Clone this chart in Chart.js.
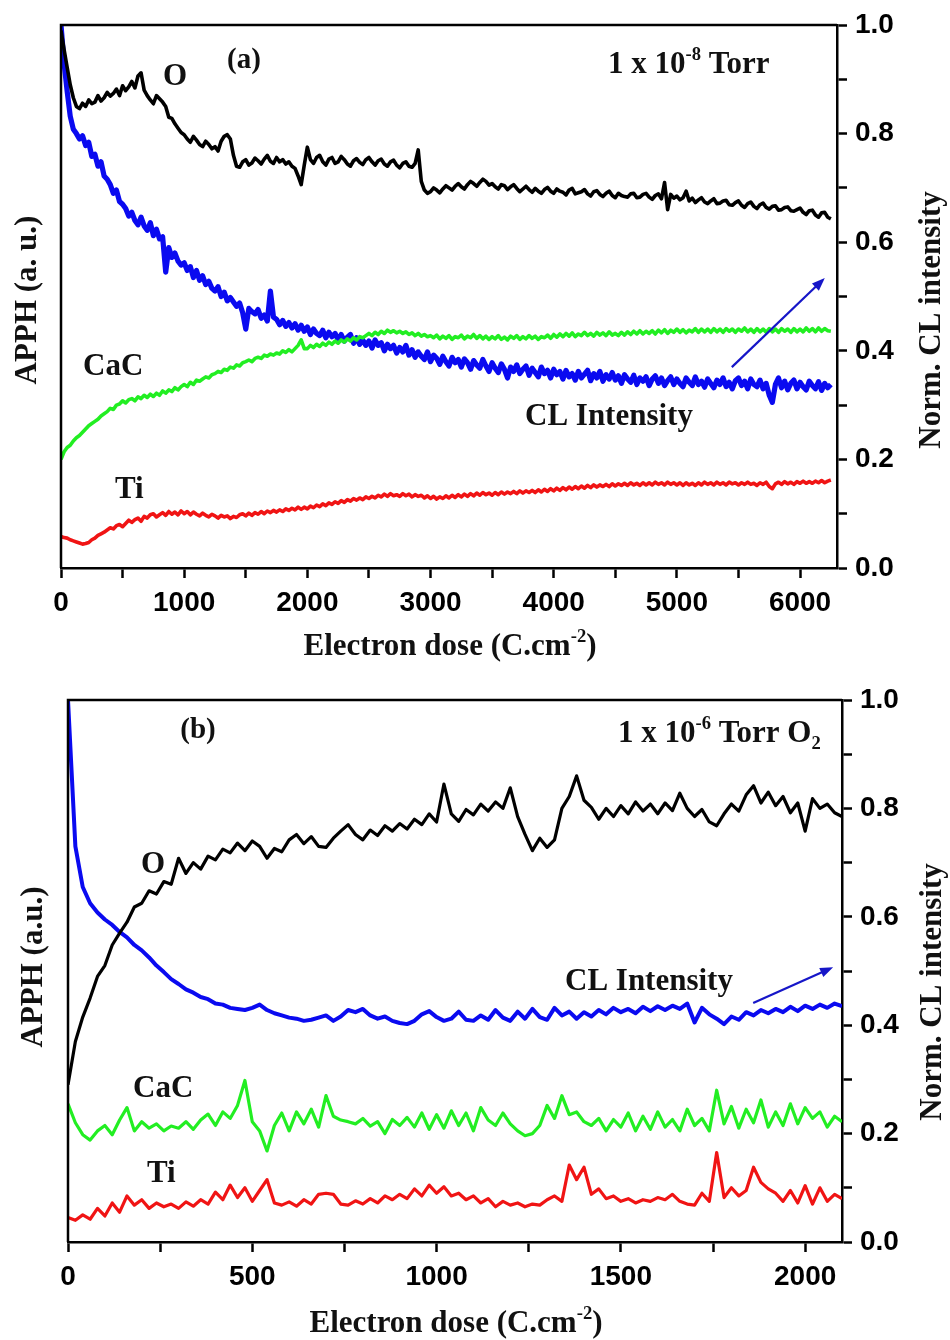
<!DOCTYPE html>
<html lang="en">
<head>
    <meta charset="UTF-8" />
    <title>APPH and CL intensity vs electron dose</title>
    <style>
        body {
            margin: 0;
            background: #fff;
        }
        .panel {
            width: 950px;
            height: 670px;
        }
    </style>
</head>
<body>
    <div class="panel"><canvas id="chartA" width="950" height="670"></canvas></div>
    <div class="panel"><canvas id="chartB" width="950" height="670"></canvas></div>

    <script src="https://cdn.jsdelivr.net/npm/chart.js"></script>
    <script>
        // (a) 1 x 10^-8 Torr
        const doseA = [
            0, 25, 50, 75, 100, 125, 150, 175, 200, 225,
            250, 275, 300, 325, 350, 375, 400, 425, 450, 475,
            500, 525, 550, 575, 600, 625, 650, 675, 700, 725,
            750, 775, 800, 825, 850, 875, 900, 925, 950, 975,
            1000, 1025, 1050, 1075, 1100, 1125, 1150, 1175, 1200, 1225,
            1250, 1275, 1300, 1325, 1350, 1375, 1400, 1425, 1450, 1475,
            1500, 1525, 1550, 1575, 1600, 1625, 1650, 1675, 1700, 1725,
            1750, 1775, 1800, 1825, 1850, 1875, 1900, 1925, 1950, 1975,
            2000, 2025, 2050, 2075, 2100, 2125, 2150, 2175, 2200, 2225,
            2250, 2275, 2300, 2325, 2350, 2375, 2400, 2425, 2450, 2475,
            2500, 2525, 2550, 2575, 2600, 2625, 2650, 2675, 2700, 2725,
            2750, 2775, 2800, 2825, 2850, 2875, 2900, 2925, 2950, 2975,
            3000, 3025, 3050, 3075, 3100, 3125, 3150, 3175, 3200, 3225,
            3250, 3275, 3300, 3325, 3350, 3375, 3400, 3425, 3450, 3475,
            3500, 3525, 3550, 3575, 3600, 3625, 3650, 3675, 3700, 3725,
            3750, 3775, 3800, 3825, 3850, 3875, 3900, 3925, 3950, 3975,
            4000, 4025, 4050, 4075, 4100, 4125, 4150, 4175, 4200, 4225,
            4250, 4275, 4300, 4325, 4350, 4375, 4400, 4425, 4450, 4475,
            4500, 4525, 4550, 4575, 4600, 4625, 4650, 4675, 4700, 4725,
            4750, 4775, 4800, 4825, 4850, 4875, 4900, 4925, 4950, 4975,
            5000, 5025, 5050, 5075, 5100, 5125, 5150, 5175, 5200, 5225,
            5250, 5275, 5300, 5325, 5350, 5375, 5400, 5425, 5450, 5475,
            5500, 5525, 5550, 5575, 5600, 5625, 5650, 5675, 5700, 5725,
            5750, 5775, 5800, 5825, 5850, 5875, 5900, 5925, 5950, 5975,
            6000, 6025, 6050, 6075, 6100, 6125, 6150, 6175, 6200, 6225,
            6250
        ];
        const oxygenA = [
            0.99, 0.955, 0.922, 0.89, 0.866, 0.85, 0.846, 0.856, 0.85, 0.862,
            0.855, 0.858, 0.87, 0.86, 0.866, 0.876, 0.869, 0.874, 0.882, 0.87,
            0.888, 0.879, 0.886, 0.896, 0.884, 0.906, 0.912, 0.88, 0.87, 0.862,
            0.855, 0.87, 0.864, 0.858, 0.85, 0.83, 0.828, 0.818, 0.81, 0.802,
            0.798, 0.79, 0.784, 0.795, 0.788, 0.78, 0.776, 0.786, 0.78, 0.772,
            0.776, 0.768, 0.786, 0.795, 0.798, 0.79, 0.76, 0.74, 0.738, 0.748,
            0.752, 0.742, 0.746, 0.755, 0.75, 0.744, 0.753, 0.76, 0.749, 0.745,
            0.756, 0.748, 0.752, 0.744, 0.748, 0.74, 0.736, 0.722, 0.706, 0.742,
            0.775, 0.752, 0.745, 0.756, 0.76, 0.748, 0.742, 0.753, 0.756, 0.745,
            0.748, 0.758, 0.752, 0.744, 0.74, 0.75, 0.754, 0.747, 0.743, 0.752,
            0.756, 0.748, 0.742, 0.75, 0.753, 0.744, 0.74, 0.748, 0.751, 0.742,
            0.737, 0.745, 0.748, 0.74, 0.738, 0.745, 0.77, 0.712, 0.696, 0.69,
            0.693, 0.7, 0.696, 0.691, 0.698, 0.704, 0.7, 0.696, 0.703, 0.708,
            0.702, 0.698, 0.706, 0.712, 0.708, 0.703, 0.71, 0.716, 0.712, 0.705,
            0.708, 0.702, 0.698, 0.706, 0.704, 0.697, 0.702, 0.706, 0.699, 0.693,
            0.698, 0.703, 0.697, 0.692, 0.699, 0.694, 0.69, 0.697, 0.701, 0.694,
            0.69, 0.698, 0.694, 0.692, 0.687, 0.696, 0.699, 0.689, 0.691, 0.693,
            0.697, 0.689, 0.685, 0.693, 0.695, 0.688, 0.684, 0.69, 0.694, 0.686,
            0.682, 0.69, 0.686, 0.684, 0.683, 0.689, 0.69, 0.682, 0.683, 0.688,
            0.69, 0.683, 0.679, 0.686, 0.689, 0.68, 0.71, 0.66, 0.688, 0.681,
            0.685, 0.678, 0.682, 0.694, 0.676, 0.681, 0.673, 0.678, 0.682, 0.674,
            0.671, 0.676, 0.68, 0.671, 0.672, 0.676, 0.677, 0.669, 0.668, 0.673,
            0.676, 0.668, 0.664, 0.671, 0.674, 0.666, 0.662, 0.669, 0.672, 0.664,
            0.661, 0.666, 0.667, 0.659, 0.66, 0.664, 0.665, 0.658, 0.657, 0.66,
            0.663, 0.655, 0.651, 0.658, 0.659, 0.65, 0.646, 0.654, 0.655, 0.646,
            0.643
        ];
        const clA = [
            1.0, 0.93, 0.878, 0.832, 0.808, 0.8, 0.79, 0.796, 0.778, 0.784,
            0.758, 0.762, 0.74, 0.748, 0.722, 0.716, 0.706, 0.69, 0.696, 0.675,
            0.67, 0.662, 0.648, 0.655, 0.64, 0.632, 0.646, 0.63, 0.622, 0.636,
            0.612, 0.624, 0.606, 0.61, 0.545, 0.59, 0.572, 0.58, 0.565, 0.558,
            0.562, 0.548, 0.555, 0.535, 0.548, 0.53, 0.538, 0.522, 0.528, 0.515,
            0.51, 0.518, 0.5, 0.508, 0.492, 0.498, 0.49, 0.482, 0.488, 0.47,
            0.44, 0.478, 0.472, 0.468, 0.476, 0.46, 0.466, 0.455, 0.51, 0.462,
            0.458, 0.448, 0.456, 0.445, 0.452, 0.442, 0.45, 0.438, 0.447, 0.436,
            0.444, 0.43, 0.44, 0.432, 0.428, 0.438, 0.424, 0.434, 0.426, 0.432,
            0.42, 0.43, 0.418, 0.425, 0.43, 0.414, 0.424, 0.412, 0.42, 0.41,
            0.418, 0.405, 0.42, 0.41, 0.415, 0.4, 0.412, 0.404, 0.41, 0.396,
            0.406, 0.398, 0.41, 0.392, 0.402, 0.388, 0.398, 0.39, 0.384, 0.398,
            0.38, 0.392, 0.386, 0.375, 0.39, 0.38, 0.372, 0.388, 0.378, 0.384,
            0.37, 0.385, 0.378, 0.366, 0.382, 0.374, 0.368, 0.384, 0.372, 0.362,
            0.378, 0.368, 0.36, 0.376, 0.366, 0.35, 0.37, 0.362, 0.374, 0.358,
            0.366, 0.372, 0.355, 0.368, 0.36, 0.352, 0.37, 0.358, 0.364, 0.35,
            0.366, 0.356, 0.362, 0.348, 0.364, 0.352, 0.358, 0.346, 0.362, 0.35,
            0.357, 0.364, 0.345, 0.358, 0.35, 0.362, 0.344, 0.356, 0.348, 0.36,
            0.346, 0.354, 0.34, 0.356, 0.348, 0.342, 0.355, 0.338, 0.35, 0.344,
            0.352, 0.336, 0.348, 0.354, 0.34, 0.35, 0.336, 0.345, 0.352, 0.338,
            0.348, 0.34, 0.334, 0.35, 0.342, 0.336, 0.352, 0.338, 0.344, 0.333,
            0.348, 0.34, 0.332, 0.346, 0.338, 0.35, 0.334, 0.342, 0.33, 0.345,
            0.35, 0.336, 0.344, 0.33, 0.348, 0.338, 0.334, 0.346, 0.33, 0.34,
            0.318, 0.305, 0.338, 0.35, 0.332, 0.344, 0.328, 0.34, 0.346, 0.33,
            0.342, 0.334, 0.328, 0.344, 0.336, 0.33, 0.343, 0.327, 0.34, 0.332,
            0.338
        ];
        const cacA = [
            0.2, 0.214, 0.222, 0.226, 0.234, 0.24, 0.244, 0.25, 0.256, 0.262,
            0.266, 0.27, 0.274, 0.28, 0.284, 0.288, 0.294, 0.292, 0.3, 0.302,
            0.308, 0.304, 0.31, 0.312, 0.308, 0.315, 0.312, 0.318, 0.314, 0.32,
            0.316, 0.322, 0.318, 0.326, 0.322, 0.328, 0.325, 0.332, 0.328, 0.334,
            0.338, 0.334, 0.342, 0.338, 0.346, 0.344, 0.348, 0.352, 0.35, 0.356,
            0.358, 0.362, 0.36, 0.366, 0.364, 0.37, 0.368, 0.374, 0.372, 0.378,
            0.38, 0.383, 0.38, 0.386, 0.388, 0.386, 0.392, 0.39, 0.394, 0.392,
            0.396, 0.394, 0.4, 0.397, 0.402, 0.398, 0.404, 0.41, 0.42, 0.404,
            0.404, 0.41, 0.406, 0.412, 0.408, 0.414, 0.41, 0.416, 0.412, 0.418,
            0.414, 0.42, 0.416, 0.422, 0.418, 0.424, 0.42, 0.426, 0.424, 0.428,
            0.432, 0.428, 0.434, 0.43, 0.436, 0.432, 0.438, 0.434, 0.437, 0.433,
            0.436, 0.432, 0.435, 0.43, 0.433, 0.428, 0.432, 0.427, 0.43, 0.426,
            0.428, 0.424, 0.429, 0.422, 0.427, 0.423, 0.428, 0.421, 0.426, 0.424,
            0.429, 0.422, 0.427, 0.424, 0.43, 0.423, 0.428, 0.422, 0.427, 0.421,
            0.426, 0.422, 0.428, 0.421, 0.425, 0.42, 0.427, 0.423, 0.428, 0.421,
            0.426, 0.422, 0.428, 0.423, 0.427, 0.421, 0.426, 0.424, 0.429, 0.423,
            0.43, 0.425, 0.431, 0.426, 0.432, 0.427, 0.433, 0.426, 0.431, 0.428,
            0.434, 0.428, 0.432, 0.427, 0.434, 0.429, 0.433, 0.428, 0.435, 0.429,
            0.432, 0.428, 0.434, 0.429, 0.435, 0.43, 0.436, 0.431, 0.437, 0.431,
            0.436, 0.432, 0.437, 0.431, 0.438, 0.433, 0.439, 0.432, 0.438, 0.434,
            0.44, 0.434, 0.439, 0.433, 0.438, 0.435, 0.441, 0.434, 0.44, 0.435,
            0.44, 0.434, 0.441, 0.435, 0.44, 0.434, 0.441, 0.436, 0.44, 0.434,
            0.44, 0.436, 0.442, 0.435, 0.44, 0.434, 0.441, 0.435, 0.44, 0.434,
            0.441, 0.435, 0.44, 0.434, 0.441, 0.436, 0.44, 0.434, 0.441, 0.435,
            0.44, 0.435, 0.442, 0.436, 0.441, 0.435, 0.442, 0.436, 0.441, 0.437,
            0.436
        ];
        const tiA = [
            0.058, 0.056, 0.055, 0.052, 0.05, 0.048, 0.046, 0.044, 0.045, 0.047,
            0.052, 0.055, 0.06, 0.063, 0.066, 0.07, 0.074, 0.072, 0.078, 0.08,
            0.076, 0.082, 0.088, 0.084, 0.089, 0.092, 0.086, 0.095, 0.092, 0.098,
            0.1, 0.094, 0.098, 0.102, 0.097, 0.104, 0.099, 0.103, 0.098, 0.105,
            0.1, 0.104, 0.098, 0.103, 0.099, 0.096, 0.101, 0.097, 0.094, 0.099,
            0.096, 0.092, 0.097, 0.094, 0.096, 0.091, 0.095, 0.093, 0.098, 0.1,
            0.096, 0.101, 0.097, 0.102, 0.099, 0.104, 0.1, 0.105, 0.102, 0.106,
            0.103, 0.107, 0.104, 0.109, 0.106, 0.11, 0.107, 0.112, 0.108, 0.112,
            0.109, 0.114, 0.111, 0.116, 0.113, 0.118, 0.115, 0.12, 0.117, 0.122,
            0.119, 0.124, 0.121, 0.126, 0.123, 0.128, 0.125, 0.129, 0.126, 0.131,
            0.128, 0.132, 0.129, 0.134, 0.131, 0.136, 0.132, 0.137, 0.133, 0.135,
            0.132, 0.137, 0.133, 0.136, 0.131, 0.135, 0.132, 0.134, 0.129, 0.133,
            0.128, 0.132, 0.127, 0.131, 0.128, 0.133, 0.129, 0.134, 0.13, 0.135,
            0.131, 0.136, 0.132, 0.137, 0.133, 0.138, 0.134, 0.139, 0.135, 0.138,
            0.134, 0.139, 0.135, 0.14, 0.136, 0.14, 0.137, 0.141, 0.137, 0.142,
            0.138, 0.142, 0.139, 0.143, 0.139, 0.144, 0.14, 0.145, 0.141, 0.146,
            0.142, 0.147, 0.143, 0.148, 0.144, 0.149, 0.145, 0.15, 0.146, 0.151,
            0.147, 0.152, 0.148, 0.153, 0.149, 0.153, 0.15, 0.154, 0.15, 0.155,
            0.151, 0.155, 0.152, 0.156, 0.152, 0.157, 0.153, 0.156, 0.152, 0.157,
            0.153, 0.157, 0.153, 0.158, 0.154, 0.157, 0.153, 0.158, 0.154, 0.157,
            0.153, 0.157, 0.152, 0.157, 0.153, 0.156, 0.152, 0.157, 0.153, 0.158,
            0.154, 0.157, 0.153, 0.158, 0.154, 0.157, 0.153, 0.158, 0.155, 0.157,
            0.153, 0.157, 0.154, 0.158, 0.154, 0.156, 0.152, 0.157, 0.154, 0.158,
            0.15, 0.146, 0.155, 0.158, 0.154, 0.159, 0.155, 0.158, 0.154, 0.159,
            0.156, 0.16, 0.156, 0.159, 0.156, 0.16, 0.157, 0.161, 0.157, 0.16,
            0.162
        ];
        const xTicksA = [0, 500, 1000, 1500, 2000, 2500, 3000, 3500, 4000, 4500, 5000, 5500, 6000];

        // (b) 1 x 10^-6 Torr O2
        const doseB = [
            0, 20, 40, 60, 80, 100, 120, 140, 160, 180,
            200, 220, 240, 260, 280, 300, 320, 340, 360, 380,
            400, 420, 440, 460, 480, 500, 520, 540, 560, 580,
            600, 620, 640, 660, 680, 700, 720, 740, 760, 780,
            800, 820, 840, 860, 880, 900, 920, 940, 960, 980,
            1000, 1020, 1040, 1060, 1080, 1100, 1120, 1140, 1160, 1180,
            1200, 1220, 1240, 1260, 1280, 1300, 1320, 1340, 1360, 1380,
            1400, 1420, 1440, 1460, 1480, 1500, 1520, 1540, 1560, 1580,
            1600, 1620, 1640, 1660, 1680, 1700, 1720, 1740, 1760, 1780,
            1800, 1820, 1840, 1860, 1880, 1900, 1920, 1940, 1960, 1980,
            2000, 2020, 2040, 2060, 2080, 2100
        ];
        const oxygenB = [
            0.29, 0.37, 0.415, 0.45, 0.49, 0.51, 0.548, 0.57, 0.59, 0.618,
            0.625, 0.648, 0.642, 0.665, 0.66, 0.708, 0.68, 0.7, 0.688, 0.712,
            0.705, 0.725, 0.718, 0.736, 0.722, 0.74, 0.73, 0.708, 0.726, 0.72,
            0.742, 0.752, 0.735, 0.748, 0.73, 0.728, 0.745, 0.758, 0.77, 0.752,
            0.742, 0.76, 0.75, 0.768, 0.758, 0.772, 0.762, 0.78, 0.77, 0.79,
            0.775, 0.845, 0.79, 0.776, 0.798, 0.788, 0.808, 0.795, 0.812, 0.8,
            0.838, 0.785, 0.752, 0.722, 0.745, 0.728, 0.742, 0.8, 0.822, 0.86,
            0.815, 0.802, 0.78, 0.8, 0.785, 0.805, 0.79, 0.812, 0.795, 0.808,
            0.79, 0.81, 0.796, 0.828, 0.8, 0.785, 0.798, 0.775, 0.768, 0.79,
            0.808, 0.795, 0.825, 0.842, 0.81, 0.83, 0.805, 0.822, 0.792, 0.81,
            0.758, 0.818, 0.8, 0.808, 0.792, 0.785
        ];
        const clB = [
            1.0, 0.73, 0.655, 0.625, 0.608, 0.595, 0.585, 0.572, 0.562, 0.548,
            0.538, 0.525, 0.51, 0.498, 0.485, 0.476, 0.466, 0.46, 0.452, 0.448,
            0.44, 0.438, 0.432, 0.43, 0.428, 0.432, 0.438, 0.428, 0.422, 0.418,
            0.414, 0.412, 0.408, 0.41, 0.414, 0.418, 0.408, 0.416, 0.428, 0.424,
            0.43, 0.418, 0.412, 0.416, 0.408, 0.404, 0.402, 0.408, 0.42, 0.426,
            0.415, 0.408, 0.412, 0.425, 0.41, 0.408, 0.418, 0.41, 0.428, 0.414,
            0.408, 0.425, 0.412, 0.43, 0.415, 0.41, 0.432, 0.418, 0.425, 0.412,
            0.424, 0.416, 0.428, 0.42, 0.432, 0.424, 0.43, 0.422, 0.434, 0.426,
            0.435, 0.428, 0.436, 0.43, 0.44, 0.405, 0.432, 0.42, 0.412, 0.402,
            0.416, 0.41, 0.424, 0.418, 0.428, 0.422, 0.43, 0.424, 0.434, 0.426,
            0.436, 0.43, 0.438, 0.432, 0.44, 0.435
        ];
        const cacB = [
            0.255, 0.22, 0.198, 0.188, 0.205, 0.215, 0.198, 0.225, 0.248, 0.205,
            0.222, 0.21, 0.218, 0.205, 0.214, 0.21, 0.222, 0.208, 0.225, 0.236,
            0.215, 0.24, 0.228, 0.252, 0.298, 0.222, 0.205, 0.168, 0.215, 0.238,
            0.205, 0.24, 0.218, 0.245, 0.212, 0.27, 0.232, 0.225, 0.222, 0.218,
            0.228, 0.214, 0.222, 0.2, 0.226, 0.215, 0.23, 0.212, 0.238, 0.208,
            0.235, 0.21, 0.242, 0.215, 0.238, 0.205, 0.248, 0.225, 0.215, 0.238,
            0.218, 0.205, 0.196, 0.2, 0.215, 0.252, 0.228, 0.27, 0.235, 0.24,
            0.222, 0.215, 0.228, 0.205, 0.226, 0.212, 0.238, 0.205, 0.232, 0.208,
            0.24, 0.212, 0.226, 0.205, 0.245, 0.215, 0.228, 0.205, 0.28, 0.218,
            0.25, 0.21, 0.245, 0.22, 0.262, 0.212, 0.24, 0.215, 0.255, 0.218,
            0.248, 0.228, 0.24, 0.212, 0.232, 0.222
        ];
        const tiB = [
            0.045, 0.04, 0.05, 0.042, 0.062, 0.048, 0.072, 0.055, 0.085, 0.068,
            0.078, 0.062, 0.072, 0.065, 0.07, 0.062, 0.074, 0.066, 0.078, 0.07,
            0.092, 0.078, 0.105, 0.082, 0.1, 0.075, 0.095, 0.115, 0.072, 0.068,
            0.074, 0.066, 0.078, 0.07, 0.088, 0.09, 0.088, 0.07, 0.068, 0.076,
            0.07, 0.08, 0.072, 0.085, 0.078, 0.088, 0.08, 0.098, 0.085, 0.105,
            0.09, 0.102, 0.085, 0.09, 0.078, 0.085, 0.072, 0.08, 0.065, 0.075,
            0.068, 0.072, 0.065, 0.07, 0.068, 0.078, 0.085, 0.075, 0.142, 0.115,
            0.138, 0.088, 0.098, 0.08, 0.085, 0.075, 0.08, 0.072, 0.078, 0.075,
            0.082, 0.078, 0.088, 0.075, 0.07, 0.068, 0.09, 0.075, 0.165, 0.082,
            0.1, 0.085, 0.095, 0.138, 0.11, 0.098, 0.09, 0.075, 0.095, 0.072,
            0.104, 0.07, 0.1, 0.075, 0.088, 0.08
        ];
        const xTicksB = [0, 250, 500, 750, 1000, 1250, 1500, 1750, 2000];

        // shared right axis (Norm. CL intensity)
        const yTicks = [0, 0.1, 0.2, 0.3, 0.4, 0.5, 0.6, 0.7, 0.8, 0.9, 1.0];

        // arrows pointing at the right (CL) axis: [dose0, value0, dose1, value1]
        const arrowA = [5446, 0.37, 6201, 0.534];
        const arrowB = [1859, 0.441, 2076, 0.507];

        const SERIF = "'Liberation Serif', 'Times New Roman', serif";
        const SANS = "'Liberation Sans', Arial, sans-serif";
        const tickFont = { family: SANS, size: 28, weight: 'bold' };

        function toPoints(xs, ys) {
            return xs.map((x, i) => ({ x: x, y: ys[i] }));
        }

        // text made of pieces, some raised or lowered (10^-8, cm^-2, O_2)
        function drawRich(ctx, parts, x, y, size, align) {
            let w = 0;
            parts.forEach(p => {
                ctx.font = 'bold ' + (p.sup || p.sub ? size * 0.6 : size) + 'px ' + SERIF;
                w += ctx.measureText(p.t).width;
            });
            let cx = align === 'center' ? x - w / 2 : x;
            ctx.textAlign = 'left';
            parts.forEach(p => {
                ctx.font = 'bold ' + (p.sup || p.sub ? size * 0.6 : size) + 'px ' + SERIF;
                let dy = p.sup ? -size * 0.42 : (p.sub ? size * 0.22 : 0);
                ctx.fillText(p.t, cx, y + dy);
                cx += ctx.measureText(p.t).width;
            });
        }

        function drawArrow(chart, a, color) {
            const sx = chart.scales.x, sy = chart.scales.y;
            const x0 = sx.getPixelForValue(a[0]), y0 = sy.getPixelForValue(a[1]);
            const x1 = sx.getPixelForValue(a[2]), y1 = sy.getPixelForValue(a[3]);
            const ang = Math.atan2(y1 - y0, x1 - x0);
            const ctx = chart.ctx;
            ctx.strokeStyle = color;
            ctx.fillStyle = color;
            ctx.lineWidth = 2.2;
            ctx.beginPath();
            ctx.moveTo(x0, y0);
            ctx.lineTo(x1 - 8 * Math.cos(ang), y1 - 8 * Math.sin(ang));
            ctx.stroke();
            ctx.beginPath();
            ctx.moveTo(x1, y1);
            ctx.lineTo(x1 - 13 * Math.cos(ang) + 5 * Math.sin(ang), y1 - 13 * Math.sin(ang) - 5 * Math.cos(ang));
            ctx.lineTo(x1 - 13 * Math.cos(ang) - 5 * Math.sin(ang), y1 - 13 * Math.sin(ang) + 5 * Math.cos(ang));
            ctx.closePath();
            ctx.fill();
        }

        function decorPlugin(spec) {
            return {
                id: 'decor',
                afterDraw(chart) {
                    const ctx = chart.ctx;
                    const a = chart.chartArea;
                    ctx.save();
                    // left and top sides of the frame
                    ctx.strokeStyle = '#000';
                    ctx.lineWidth = 2.5;
                    ctx.beginPath();
                    ctx.moveTo(a.left, a.bottom);
                    ctx.lineTo(a.left, a.top);
                    ctx.lineTo(a.right, a.top);
                    ctx.stroke();

                    drawArrow(chart, spec.arrow, '#1616c8');

                    ctx.fillStyle = '#111';
                    ctx.textBaseline = 'alphabetic';
                    spec.labels.forEach(l => drawRich(ctx, l.parts, l.x, l.y, l.size, l.align));

                    // x title
                    drawRich(ctx, [{ t: 'Electron dose (C.cm' }, { t: '-2', sup: true }, { t: ')' }],
                        spec.xTitle[0], spec.xTitle[1], 31, 'center');

                    // rotated y titles
                    ctx.textBaseline = 'middle';
                    [[spec.leftTitle, spec.leftPos], ['Norm. CL intensity', spec.rightPos]].forEach(t => {
                        ctx.save();
                        ctx.translate(t[1][0], t[1][1]);
                        ctx.rotate(-Math.PI / 2);
                        drawRich(ctx, [{ t: t[0] }], 0, 0, 31, 'center');
                        ctx.restore();
                    });
                    ctx.restore();
                }
            };
        }

        function makePanel(canvasId, dose, series, xMax, xTicks, xLabelStep, box, spec) {
            const axisGrid = { drawOnChartArea: false, drawTicks: true, tickLength: 10, tickWidth: 2.5, tickColor: '#000' };
            const axisBorder = { display: true, color: '#000', width: 2.5 };
            new Chart(document.getElementById(canvasId), {
                type: 'line',
                data: {
                    datasets: series.map(s => ({
                        data: toPoints(dose, s.values),
                        borderColor: s.color,
                        borderWidth: s.width,
                        pointRadius: 0,
                        tension: 0,
                        fill: false,
                        borderJoinStyle: 'round'
                    }))
                },
                options: {
                    responsive: false,
                    animation: false,
                    layout: { padding: { left: box.left, top: box.top, right: 0, bottom: 0 } },
                    plugins: { legend: { display: false }, tooltip: { enabled: false } },
                    scales: {
                        x: {
                            type: 'linear', position: 'bottom', min: 0, max: xMax,
                            afterBuildTicks: s => { s.ticks = xTicks.map(v => ({ value: v })); },
                            ticks: {
                                autoSkip: false, maxRotation: 0, color: '#000', padding: 8, font: tickFont,
                                callback: v => (v % xLabelStep === 0 ? String(v) : '')
                            },
                            grid: axisGrid,
                            border: axisBorder,
                            afterFit: s => { s.height = 670 - box.bottom; }
                        },
                        y: {
                            type: 'linear', position: 'right', min: 0, max: 1,
                            afterBuildTicks: s => { s.ticks = yTicks.map(v => ({ value: v })); },
                            ticks: {
                                autoSkip: false, color: '#000', padding: 8, font: tickFont,
                                callback: v => (Math.round(v * 10) % 2 === 0 ? v.toFixed(1) : '')
                            },
                            grid: axisGrid,
                            border: axisBorder,
                            afterFit: s => { s.width = 950 - box.right; }
                        }
                    }
                },
                plugins: [decorPlugin(spec)]
            });
        }

        makePanel('chartA', doseA, [
            { values: oxygenA, color: '#000000', width: 3.6 },
            { values: cacA, color: '#22ee22', width: 3.6 },
            { values: clA, color: '#0a0af0', width: 5.2 },
            { values: tiA, color: '#f01414', width: 3.6 }
        ], 6300, xTicksA, 1000, { left: 61, right: 837, top: 25, bottom: 568 }, {
            arrow: arrowA,
            xTitle: [450, 655],
            leftTitle: 'APPH (a. u.)',
            leftPos: [28, 300],
            rightPos: [932, 320],
            labels: [
                { parts: [{ t: '(a)' }], x: 244, y: 68, size: 29, align: 'center' },
                { parts: [{ t: 'O' }], x: 175, y: 85, size: 31, align: 'center' },
                { parts: [{ t: '1 x 10' }, { t: '-8', sup: true }, { t: ' Torr' }], x: 608, y: 73, size: 31 },
                { parts: [{ t: 'CaC' }], x: 83, y: 375, size: 31 },
                { parts: [{ t: 'Ti' }], x: 115, y: 498, size: 31 },
                { parts: [{ t: 'CL Intensity' }], x: 525, y: 425, size: 31 }
            ]
        });

        makePanel('chartB', doseB, [
            { values: oxygenB, color: '#000000', width: 3.2 },
            { values: cacB, color: '#22ee22', width: 3.2 },
            { values: clB, color: '#0a0af0', width: 4 },
            { values: tiB, color: '#f01414', width: 3.2 }
        ], 2100, xTicksB, 500, { left: 68, right: 842, top: 30, bottom: 572 }, {
            arrow: arrowB,
            xTitle: [456, 662],
            leftTitle: 'APPH (a.u.)',
            leftPos: [34, 297],
            rightPos: [933, 322],
            labels: [
                { parts: [{ t: '(b)' }], x: 198, y: 68, size: 29, align: 'center' },
                { parts: [{ t: 'O' }], x: 153, y: 203, size: 31, align: 'center' },
                { parts: [{ t: '1 x 10' }, { t: '-6', sup: true }, { t: ' Torr O' }, { t: '2', sub: true }], x: 618, y: 72, size: 31 },
                { parts: [{ t: 'CaC' }], x: 133, y: 427, size: 31 },
                { parts: [{ t: 'Ti' }], x: 147, y: 512, size: 31 },
                { parts: [{ t: 'CL Intensity' }], x: 565, y: 320, size: 31 }
            ]
        });
    </script>
</body>
</html>
